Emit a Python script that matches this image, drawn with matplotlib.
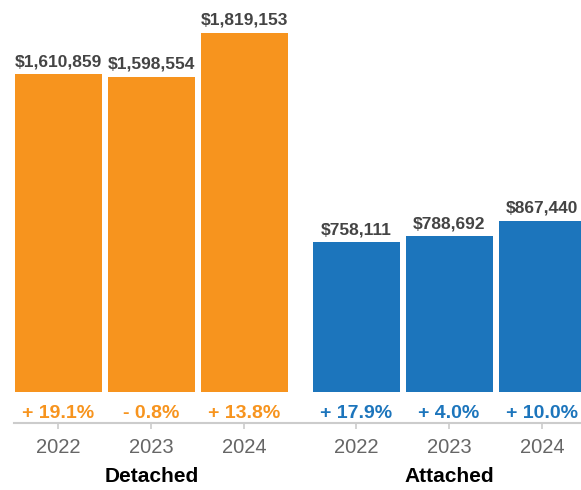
import matplotlib
matplotlib.use("Agg")
import matplotlib.pyplot as plt
import matplotlib.transforms as mtransforms

plt.rcParams["font.family"] = ["Liberation Sans", "DejaVu Sans"]

# median prices and year-over-year change, by housing type
years = ["2022", "2023", "2024"]
groups = ["Detached", "Attached"]
detached_prices = [1610859, 1598554, 1819153]
attached_prices = [758111, 788692, 867440]
detached_change = [19.1, -0.8, 13.8]
attached_change = [17.9, 4.0, 10.0]

ORANGE = "#F7941E"
BLUE = "#1C75BC"
GROUP_GAP = 0.2

W, H, DPI = 581, 490, 100
fig = plt.figure(figsize=(W / DPI, H / DPI), dpi=DPI)
# axes spans from the baseline rule (y=423px) to the top of the figure
ax = fig.add_axes([14 / W, (H - 423) / H, (W - 14) / W, 423 / H])

px_per_unit = 359 / max(detached_prices)
ax.set_ylim(-31 / px_per_unit, 392 / px_per_unit)
ax.set_xlim(-0.478, 5.618)


def fmt_change(v):
    sign = "+" if v >= 0 else "-"
    return f"{sign} {abs(v):.1f}%"


series = [
    (detached_prices, detached_change, ORANGE),
    (attached_prices, attached_change, BLUE),
]

xticks, xlabels, centers = [], [], []
for g, (prices, changes, color) in enumerate(series):
    xs = [g * (len(years) + GROUP_GAP) + i for i in range(len(years))]
    ax.bar(xs, prices, width=0.935, color=color, linewidth=0)
    for x, p, c in zip(xs, prices, changes):
        ax.annotate(f"${p:,}", (x, p), xytext=(0, 5.8), textcoords="offset points",
                    ha="center", va="baseline", fontsize=12.5, fontweight="bold",
                    color="#444444")
        ax.annotate(fmt_change(c), (x, 0), xytext=(0, -18.5), textcoords="offset points",
                    ha="center", va="baseline", fontsize=14, fontweight="bold",
                    color=color)
    xticks += xs
    xlabels += years
    centers.append(sum(xs) / len(xs))

ax.set_xticks(xticks)
ax.set_xticklabels(xlabels)
ax.tick_params(axis="x", length=4.5, width=1.2, color="#cccccc", pad=6,
               labelsize=14.5, labelcolor="#666666")
ax.set_yticks([])
for side in ("top", "left", "right"):
    ax.spines[side].set_visible(False)
ax.spines["bottom"].set_color("#cccccc")
ax.spines["bottom"].set_linewidth(1.5)

# group names under the year labels
trans = mtransforms.blended_transform_factory(ax.transData, fig.transFigure)
for cx, name in zip(centers, groups):
    ax.text(cx, (H - 482) / H, name, transform=trans, ha="center", va="baseline",
            fontsize=15, fontweight="bold", color="black")

fig.savefig("out.png", dpi=DPI)
